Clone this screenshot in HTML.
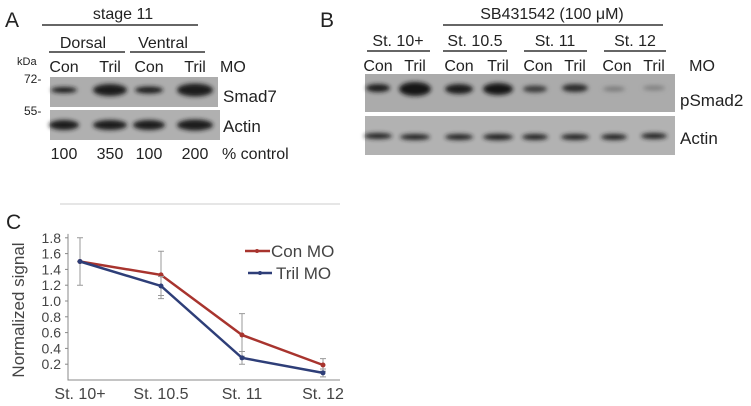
<!DOCTYPE html>
<html><head><meta charset="utf-8"><style>
body{margin:0;background:#fff}
svg{display:block;font-family:"Liberation Sans",Arial,sans-serif;fill:#222}
</style></head><body>
<svg width="751" height="406" viewBox="0 0 751 406">
<defs><filter id="bl" x="-30%" y="-80%" width="160%" height="260%"><feGaussianBlur stdDeviation="2"/></filter></defs>
<g>
<text x="5" y="27" font-size="21">A</text>
<text x="123" y="19" font-size="16" text-anchor="middle">stage 11</text>
<line x1="42" y1="25" x2="198" y2="25" stroke="#333" stroke-width="1.5"/>
<text x="83" y="48" font-size="16" text-anchor="middle">Dorsal</text>
<line x1="49" y1="52" x2="125" y2="52" stroke="#333" stroke-width="1.5"/>
<text x="163" y="48" font-size="16" text-anchor="middle">Ventral</text>
<line x1="130" y1="52" x2="205" y2="52" stroke="#333" stroke-width="1.5"/>
<text x="17" y="65" font-size="11">kDa</text>
<g font-size="16" text-anchor="middle">
<text x="64" y="72">Con</text><text x="110" y="72">Tril</text><text x="149" y="72">Con</text><text x="195" y="72">Tril</text>
<text x="220" y="72" text-anchor="start">MO</text></g>
<text x="24" y="83" font-size="12">72-</text>
<text x="24" y="115" font-size="12">55-</text>
<rect x="50" y="77" width="168" height="30" fill="#adadad"/>
<rect x="50" y="110" width="170" height="30" fill="#b0b0b0"/>
<g filter="url(#bl)" fill="#1a1a1a">
<ellipse cx="64" cy="90" rx="13" ry="3"/><ellipse cx="110" cy="90" rx="17" ry="6"/>
<ellipse cx="149" cy="90" rx="14" ry="3.5"/><ellipse cx="195" cy="90" rx="18" ry="6.5"/>
<ellipse cx="64" cy="125" rx="15" ry="5"/><ellipse cx="110" cy="125" rx="17" ry="5"/>
<ellipse cx="149" cy="125" rx="16" ry="5"/><ellipse cx="195" cy="125" rx="18" ry="5.5"/></g>
<text x="223" y="102" font-size="17">Smad7</text>
<text x="223" y="132" font-size="17">Actin</text>
<g font-size="16" text-anchor="middle">
<text x="64" y="159">100</text><text x="110" y="159">350</text><text x="149" y="159">100</text><text x="195" y="159">200</text>
<text x="222" y="159" text-anchor="start">% control</text></g>
</g>
<g>
<text x="320" y="27" font-size="21">B</text>
<text x="552" y="19" font-size="16" text-anchor="middle">SB431542 (100 μM)</text>
<line x1="443" y1="25" x2="663" y2="25" stroke="#333" stroke-width="1.5"/>
<g font-size="16" text-anchor="middle">
<text x="398" y="46">St. 10+</text><text x="475" y="46">St. 10.5</text><text x="555" y="46">St. 11</text><text x="635" y="46">St. 12</text></g>
<g stroke="#333" stroke-width="1.5">
<line x1="367" y1="51" x2="430" y2="51"/><line x1="443" y1="51" x2="507" y2="51"/>
<line x1="524" y1="51" x2="587" y2="51"/><line x1="604" y1="51" x2="666" y2="51"/></g>
<g font-size="16" text-anchor="middle">
<text x="378" y="71">Con</text><text x="415" y="71">Tril</text><text x="459" y="71">Con</text><text x="498" y="71">Tril</text>
<text x="538" y="71">Con</text><text x="575" y="71">Tril</text><text x="617" y="71">Con</text><text x="654" y="71">Tril</text>
<text x="702" y="71">MO</text></g>
<rect x="365" y="74" width="310" height="38" fill="#ababab"/>
<rect x="365" y="116" width="310" height="39" fill="#b2b2b2"/>
<g filter="url(#bl)">
<ellipse cx="378" cy="88" rx="12" ry="4" fill="#1a1a1a"/><ellipse cx="415" cy="89" rx="16" ry="7" fill="#151515"/>
<ellipse cx="459" cy="89" rx="14" ry="5" fill="#1d1d1d"/><ellipse cx="498" cy="89" rx="15" ry="6" fill="#181818"/>
<ellipse cx="535" cy="89" rx="12" ry="3.5" fill="#3a3a3a"/><ellipse cx="575" cy="88" rx="13" ry="4" fill="#2a2a2a"/>
<ellipse cx="614" cy="89" rx="11" ry="2.5" fill="#7a7a7a"/><ellipse cx="654" cy="88" rx="11" ry="2.5" fill="#808080"/>
<ellipse cx="378" cy="136" rx="14" ry="3" fill="#222"/><ellipse cx="415" cy="137" rx="15" ry="3" fill="#222"/>
<ellipse cx="459" cy="137" rx="14" ry="3" fill="#222"/><ellipse cx="498" cy="137" rx="15" ry="3.2" fill="#222"/>
<ellipse cx="535" cy="137" rx="13" ry="3" fill="#222"/><ellipse cx="575" cy="137" rx="14" ry="3" fill="#222"/>
<ellipse cx="614" cy="137" rx="13" ry="3" fill="#222"/><ellipse cx="654" cy="136" rx="13" ry="3" fill="#222"/></g>
<text x="680" y="106" font-size="17">pSmad2</text>
<text x="680" y="144" font-size="17">Actin</text>
</g>
<g>
<text x="6" y="229" font-size="21">C</text>
<line x1="60" y1="204" x2="340" y2="204" stroke="#ddd" stroke-width="1.5"/>
<text transform="translate(24,310) rotate(-90)" font-size="17" text-anchor="middle" fill="#444">Normalized signal</text>
<g id="chart"></g>
<g>
<line x1="245" y1="251" x2="270" y2="251" stroke="#a8342e" stroke-width="2.5"/><circle cx="257" cy="251" r="2" fill="#a8342e"/>
<text x="271" y="257" font-size="17" fill="#444">Con MO</text>
<line x1="248" y1="273" x2="272" y2="273" stroke="#2e3e78" stroke-width="2.5"/><circle cx="260" cy="273" r="2" fill="#2e3e78"/>
<text x="276" y="279" font-size="17" fill="#444">Tril MO</text>
</g>
</g>
</svg>
<script>
const categories=["St. 10+","St. 10.5","St. 11","St. 12"];
const conValues=[1.5,1.33,0.57,0.19];
const trilValues=[1.5,1.19,0.28,0.09];
const conErr=[0.3,0.3,0.27,0.08];
const trilErr=[0.0,0.12,0.08,0.05];
const yTicks=[0.2,0.4,0.6,0.8,1.0,1.2,1.4,1.6,1.8];
const NS="http://www.w3.org/2000/svg";
const g=document.getElementById('chart');
const x0=80,dx=81,yBase=380,ppu=79;
const xs=i=>x0+i*dx, ys=v=>yBase-v*ppu;
function mk(t,a){const e=document.createElementNS(NS,t);for(const k in a)e.setAttribute(k,a[k]);g.appendChild(e);return e;}
const ax=mk('path',{d:`M68 ${ys(1.85)} V${yBase} H340`,stroke:'#888','stroke-width':1,fill:'none'});


yTicks.forEach(v=>{
 const l=mk('line',{x1:65,x2:68,y1:ys(v),y2:ys(v),stroke:'#888'});
 
 
 const t=mk('text',{x:61,y:ys(v)+5,'font-size':14,'text-anchor':'end',fill:'#444'});
 t.textContent=v.toFixed(1);
 
 
});
categories.forEach((c,i)=>{
 const t=mk('text',{x:xs(i),y:399,'font-size':16,'text-anchor':'middle',fill:'#444'});
 t.textContent=c;
 
 
});
function series(vals,errs,col,name){
 vals.forEach((v,i)=>{
  const e=mk('path',{d:`M${xs(i)} ${ys(v+errs[i])} V${ys(v-errs[i])} M${xs(i)-3} ${ys(v+errs[i])} h6 M${xs(i)-3} ${ys(v-errs[i])} h6`,stroke:'#999','stroke-width':1,fill:'none'});
  
  
 });
 const p=mk('polyline',{points:vals.map((v,i)=>xs(i)+','+ys(v)).join(' '),stroke:col,'stroke-width':2.5,fill:'none'});
 
 
 vals.forEach((v,i)=>{
  const c=mk('circle',{cx:xs(i),cy:ys(v),r:2.5,fill:col});
  
  
 });
}
series(conValues,conErr,'#a8342e','con-mo');
series(trilValues,trilErr,'#2e3e78','tril-mo');
</script>
</body></html>
